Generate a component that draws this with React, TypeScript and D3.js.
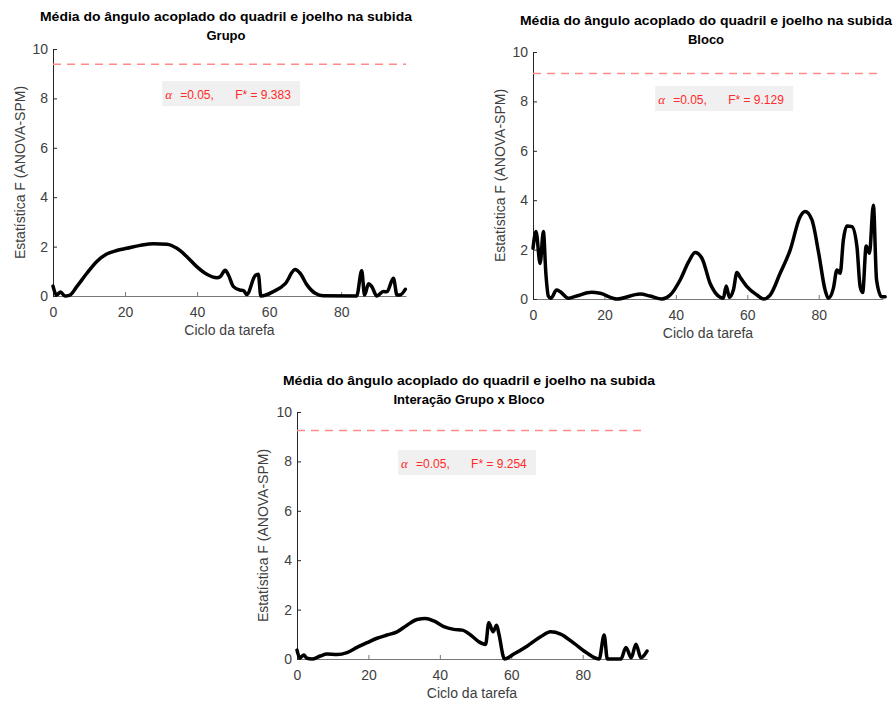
import { useEffect, useRef } from 'react';
import * as d3 from 'd3';

// chart text
const titleLine = 'Média do ângulo acoplado do quadril e joelho na subida';
const panelNames = ['Grupo', 'Bloco', 'Interação Grupo x Bloco'];
const criticalF = [9.383, 9.129, 9.254];
const alphaLevel = '0.05';
const xLabel = 'Ciclo da tarefa';
const yLabel = 'Estatística F (ANOVA-SPM)';

const xTicks = [0, 20, 40, 60, 80];
const yTicks = [0, 2, 4, 6, 8, 10];

// SPM{F} curves
const grupoCycle = [0, 1, 2.1, 3.3, 4.7, 6.6, 9.4, 12.1, 14.9, 17.7, 20.5, 24.2, 27.9, 31.6, 34.4, 37.1, 39.9, 42.7, 45.5, 46.4, 47.8, 48.7, 50.1, 51.9, 52.9, 53.8, 56.1, 57, 57.7, 61.2, 64.5, 67.2, 68.6, 70.5, 72.8, 75.1, 84.3, 85.7, 86.5, 87.6, 88.5, 89.9, 91.7, 92.7, 94.5, 95.5, 96.3, 97.8];
const grupoF = [0.4, 0.04, 0.16, 0, 0.04, 0.38, 0.92, 1.39, 1.7, 1.84, 1.93, 2.05, 2.12, 2.1, 1.93, 1.6, 1.19, 0.88, 0.74, 0.78, 1.04, 0.85, 0.38, 0.24, 0.22, 0.06, 0.82, 0.88, 0, 0.18, 0.5, 1.07, 0.92, 0.45, 0.11, 0.01, 0, 1.02, 0.04, 0.5, 0.38, 0, 0.18, 0.17, 0.72, 0.04, 0.04, 0.27];

const blocoCycle = [0, 0.84, 2, 2.9, 3.6, 4.3, 5, 6.6, 7.6, 9.9, 12.2, 16.4, 18.8, 23.5, 30, 32.8, 36.1, 38.4, 41.2, 43.6, 45.4, 47.3, 49.6, 52.4, 53.3, 54.1, 55, 56.1, 57.1, 58, 59.9, 62.7, 64.5, 66.4, 69.2, 72, 74.8, 76.2, 78.1, 80, 81.8, 82.7, 84.1, 85.1, 86, 86.9, 87.9, 89.3, 90.7, 91.6, 92.3, 93.3, 94.2, 95.3, 96.2, 97.6, 98.6];
const blocoF = [2.05, 2.73, 1.44, 2.73, 1.04, 0.12, 0.03, 0.36, 0.3, 0.03, 0.12, 0.27, 0.23, 0, 0.2, 0.12, 0, 0.16, 0.77, 1.51, 1.88, 1.65, 0.63, 0.07, 0.03, 0.53, 0.07, 0.36, 1.07, 0.88, 0.5, 0.16, 0, 0.16, 1.04, 1.98, 3.33, 3.54, 3.2, 1.85, 0.36, 0.03, 0.43, 1.17, 1.04, 2.39, 2.96, 2.93, 2.12, 0.5, 0.26, 2.15, 1.85, 3.8, 0.77, 0.09, 0.09];

const interacaoCycle = [0, 0.75, 1.9, 2.8, 4.2, 6.5, 8.4, 11.2, 14, 16.8, 19.6, 22.4, 25.2, 28, 30.8, 33.6, 36, 38.3, 41.1, 43.9, 46.3, 48.6, 50.9, 52.8, 53.7, 54.9, 55.9, 56.5, 58.1, 60.7, 64.5, 68.2, 71, 73.8, 77.6, 81.3, 84.6, 86, 86.9, 90.7, 92.1, 93.6, 94.9, 96.3, 98];
const interacaoF = [0.36, 0.05, 0.16, 0.03, 0, 0.12, 0.2, 0.18, 0.26, 0.47, 0.66, 0.84, 0.97, 1.1, 1.37, 1.6, 1.64, 1.54, 1.31, 1.2, 1.17, 0.97, 0.7, 0.59, 1.47, 1.1, 1.37, 1.04, 0, 0.2, 0.53, 0.9, 1.1, 1.01, 0.63, 0.23, 0, 0.97, 0, 0, 0.47, 0.05, 0.6, 0.05, 0.32];

const seriesCycle = [grupoCycle, blocoCycle, interacaoCycle];
const seriesF = [grupoF, blocoF, interacaoF];

// panel placement on the page
const layouts = [
  { left: 53, right: 406, top: 49, bottom: 296, titleX: 226, titleY: 21, yLabX: 25, xLabY: 335, boxX: 30.3, boxY: 8.7 },
  { left: 533, right: 883, top: 52, bottom: 299, titleX: 706, titleY: 25, yLabX: 505, xLabY: 338, boxX: 34.2, boxY: 8.62 },
  { left: 297, right: 647, top: 412, bottom: 659, titleX: 469, titleY: 385, yLabX: 268, xLabY: 698, boxX: 28.3, boxY: 8.46 },
];

const FONT = '"Liberation Sans", Arial, sans-serif';
const GRAY = '#404040';

const drawPanel = (g, i) => {
  const L = layouts[i];
  const x = d3.scaleLinear().domain([0, 98]).range([L.left, L.right]);
  const y = d3.scaleLinear().domain([0, 10]).range([L.bottom, L.top]);

  // title (two lines)
  const title = g.append('text')
    .attr('text-anchor', 'middle')
    .attr('font-family', FONT)
    .attr('font-weight', 'bold')
    .attr('font-size', 13)
    .attr('fill', '#000');
  title.append('tspan').attr('x', L.titleX).attr('y', L.titleY).attr('textLength', 372).attr('lengthAdjust', 'spacingAndGlyphs').text(titleLine);
  title.append('tspan').attr('x', L.titleX).attr('y', L.titleY + 19).text(panelNames[i]);

  // x axis
  const xAxis = g.append('g')
    .attr('transform', `translate(0,${L.bottom})`)
    .call(d3.axisBottom(x).tickValues(xTicks).tickSize(-4).tickSizeOuter(0).tickPadding(11));
  xAxis.select('.domain').attr('stroke', '#777');
  xAxis.selectAll('.tick line').attr('stroke', '#777');
  xAxis.selectAll('text').attr('font-family', FONT).attr('font-size', 14).attr('fill', GRAY);

  // y axis
  const yAxis = g.append('g')
    .attr('transform', `translate(${L.left},0)`)
    .call(d3.axisLeft(y).tickValues(yTicks).tickSize(-4).tickSizeOuter(0).tickPadding(5));
  yAxis.select('.domain').attr('stroke', '#262626');
  yAxis.selectAll('.tick line').attr('stroke', '#262626');
  yAxis.selectAll('text').attr('font-family', FONT).attr('font-size', 14).attr('fill', GRAY);

  // axis labels
  g.append('text')
    .attr('x', (L.left + L.right) / 2)
    .attr('y', L.xLabY)
    .attr('text-anchor', 'middle')
    .attr('font-family', FONT)
    .attr('font-size', 14)
    .attr('fill', GRAY)
    .text(xLabel);

  g.append('text')
    .attr('transform', `translate(${L.yLabX},${(L.top + L.bottom) / 2}) rotate(-90)`)
    .attr('text-anchor', 'middle')
    .attr('font-family', FONT)
    .attr('font-size', 14)
    .attr('fill', GRAY)
    .text(yLabel);

  // critical threshold
  g.append('line')
    .attr('x1', x(0))
    .attr('x2', x(98))
    .attr('y1', y(criticalF[i]))
    .attr('y2', y(criticalF[i]))
    .attr('stroke', '#ff8a8a')
    .attr('stroke-width', 1.5)
    .attr('stroke-dasharray', '8,6');

  // label box
  const bx = x(L.boxX);
  const by = y(L.boxY);
  g.append('rect')
    .attr('x', bx)
    .attr('y', by)
    .attr('width', 138)
    .attr('height', 25)
    .attr('fill', '#f0f0f0');
  const lab = g.append('text')
    .attr('y', by + 18)
    .attr('font-size', 12)
    .attr('font-family', FONT)
    .attr('fill', '#ff2a2a');
  lab.append('tspan').attr('x', bx + 3).attr('font-family', '"Liberation Serif", serif').attr('font-style', 'italic').attr('font-size', 13).text('α');
  lab.append('tspan').attr('x', bx + 18).text(`=${alphaLevel},`);
  lab.append('tspan').attr('x', bx + 73).text(`F* = ${criticalF[i].toFixed(3)}`);

  // SPM curve
  const pts = seriesCycle[i].map((c, k) => [c, seriesF[i][k]]);
  const line = d3.line()
    .x(d => x(d[0]))
    .y(d => y(d[1]))
    .curve(d3.curveMonotoneX);
  g.append('path')
    .datum(pts)
    .attr('d', line)
    .attr('fill', 'none')
    .attr('stroke', '#000')
    .attr('stroke-width', 3.5)
    .attr('stroke-linejoin', 'round')
    .attr('stroke-linecap', 'round');
};

const App = () => {
  const svgRef = useRef(null);

  useEffect(() => {
    const svg = d3.select(svgRef.current);
    svg.selectAll('*').remove();
    svg.append('rect').attr('width', 896).attr('height', 704).attr('fill', '#fff');
    layouts.forEach((_, i) => drawPanel(svg.append('g'), i));
  }, []);

  return (
    <svg
      ref={svgRef}
      width={896}
      height={704}
      style={{ position: 'absolute', left: 0, top: 0, display: 'block' }}
    />
  );
};

export default App;
